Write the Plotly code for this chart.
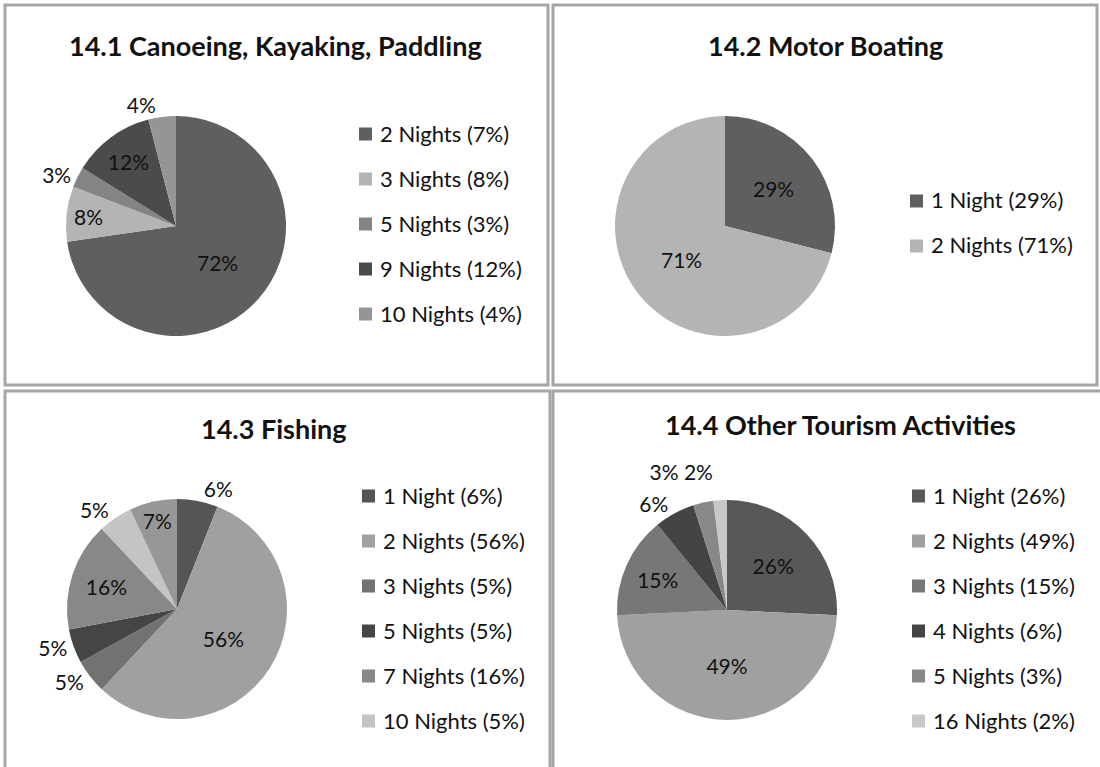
import plotly.graph_objects as go

# 14.1 Canoeing, Kayaking, Paddling
canoe_labels = ["2 Nights", "3 Nights", "5 Nights", "9 Nights", "10 Nights"]
canoe_values = [72, 8, 3, 12, 4]
canoe_legend = ["2 Nights (7%)", "3 Nights (8%)", "5 Nights (3%)", "9 Nights (12%)", "10 Nights (4%)"]

# 14.2 Motor Boating
motor_labels = ["1 Night", "2 Nights"]
motor_values = [29, 71]
motor_legend = ["1 Night (29%)", "2 Nights (71%)"]

# 14.3 Fishing (last slice has no legend entry in the original)
fish_labels = ["1 Night", "2 Nights", "3 Nights", "5 Nights", "7 Nights", "10 Nights", "other"]
fish_values = [6, 56, 5, 5, 16, 5, 7]
fish_legend = ["1 Night (6%)", "2 Nights (56%)", "3 Nights (5%)", "5 Nights (5%)",
               "7 Nights (16%)", "10 Nights (5%)"]

# 14.4 Other Tourism Activities
other_labels = ["1 Night", "2 Nights", "3 Nights", "4 Nights", "5 Nights", "16 Nights"]
other_values = [26, 49, 15, 6, 3, 2]
other_legend = ["1 Night (26%)", "2 Nights (49%)", "3 Nights (15%)", "4 Nights (6%)",
                "5 Nights (3%)", "16 Nights (2%)"]

W, H = 1100, 767
FONT = "Lato, 'Open Sans', sans-serif"


def px_x(x):
    return x / W


def px_y(y):
    return 1 - y / H


def pct_text(values):
    return ["%d%%" % v for v in values]


# the two tiny slices at the top of 14.4 share one label line, like the original;
# they go on an overlay copy of the pie so plotly doesn't push them around
other_text = pct_text(other_values)
other_top = ["", "", "", "", "", other_text[4] + " " + other_text[5]]
other_text[4] = ""
other_text[5] = ""

panels = [
    dict(title="14.1 Canoeing, Kayaking, Paddling", labels=canoe_labels, values=canoe_values,
         text=pct_text(canoe_values), legend=canoe_legend,
         colors=["#5f5f5f", "#b4b4b4", "#848484", "#4b4b4b", "#959595"],
         textpos=["inside", "inside", "outside", "inside", "outside"],
         center=(176, 226), box=(5, 5, 548, 385), title_xy=(275, 45),
         leg_x=359, leg_y0=134),
    dict(title="14.2 Motor Boating", labels=motor_labels, values=motor_values,
         text=pct_text(motor_values), legend=motor_legend,
         colors=["#5f5f5f", "#b4b4b4"],
         textpos=["inside", "inside"],
         center=(725, 226), box=(553, 5, 1097, 385), title_xy=(825, 45),
         leg_x=910, leg_y0=201),
    dict(title="14.3 Fishing", labels=fish_labels, values=fish_values,
         text=pct_text(fish_values), legend=fish_legend,
         colors=["#555555", "#a0a0a0", "#727272", "#454545", "#888888", "#c4c4c4", "#979797"],
         textpos=["outside", "inside", "outside", "outside", "inside", "outside", "inside"],
         center=(177, 609), box=(5, 391, 550, 775), title_xy=(274, 428),
         leg_x=362, leg_y0=496),
    dict(title="14.4 Other Tourism Activities", labels=other_labels, values=other_values,
         text=other_text, legend=other_legend,
         colors=["#585858", "#a0a0a0", "#777777", "#444444", "#888888", "#c8c8c8"],
         textpos=["inside", "inside", "inside", "outside", "none", "none"],
         center=(727, 610), box=(553, 391, 1105, 775), title_xy=(840, 425),
         leg_x=912, leg_y0=496),
]

R = 110
LEG_STEP = 45


def pie_domain(center, r=R):
    cx, cy = center
    return dict(x=[px_x(cx - r), px_x(cx + r)], y=[px_y(cy + r), px_y(cy - r)])


fig = go.Figure()
shapes = []
annotations = []

for p in panels:
    fig.add_trace(go.Pie(
        labels=p["labels"], values=p["values"], text=p["text"],
        sort=False, direction="clockwise", rotation=0,
        marker=dict(colors=p["colors"], line=dict(width=0)),
        texttemplate="%{text}", textposition=p["textpos"],
        textfont=dict(family=FONT, size=21, color="#111111"),
        insidetextorientation="horizontal",
        hoverinfo="label+value",
        showlegend=False,
        domain=pie_domain(p["center"]),
    ))

    # panel border
    x0, y0, x1, y1 = p["box"]
    shapes.append(dict(type="rect", xref="paper", yref="paper",
                       x0=px_x(x0), x1=px_x(x1), y0=px_y(y1), y1=px_y(y0),
                       line=dict(color="#a6a6a6", width=3)))

    tx, ty = p["title_xy"]
    annotations.append(dict(text="<b>" + p["title"] + "</b>", x=px_x(tx), y=px_y(ty),
                            xref="paper", yref="paper", showarrow=False,
                            xanchor="center", yanchor="middle",
                            font=dict(family=FONT, size=27, color="#111111")))

    # hand drawn legend so spacing matches the original
    for i, txt in enumerate(p["legend"]):
        ly = p["leg_y0"] + i * LEG_STEP
        lx = p["leg_x"]
        shapes.append(dict(type="rect", xref="paper", yref="paper",
                           x0=px_x(lx), x1=px_x(lx + 13), y0=px_y(ly + 6.5), y1=px_y(ly - 6.5),
                           fillcolor=p["colors"][i], line=dict(width=0)))
        annotations.append(dict(text=txt, x=px_x(lx + 19), y=px_y(ly - 1),
                                xref="paper", yref="paper", showarrow=False,
                                xanchor="left", yanchor="middle",
                                font=dict(family=FONT, size=22, color="#111111")))

# transparent, slightly larger copy of 14.4 that only carries the "3% 2%" label,
# so it sits above the "6%" label instead of colliding with it
fig.add_trace(go.Pie(
    labels=other_labels, values=other_values, text=other_top,
    sort=False, direction="clockwise", rotation=0,
    marker=dict(colors=["rgba(0,0,0,0)"] * len(other_values), line=dict(width=0)),
    texttemplate="%{text}",
    textposition=["none", "none", "none", "none", "none", "outside"],
    textfont=dict(family=FONT, size=21, color="#111111"),
    hoverinfo="skip",
    showlegend=False,
    domain=pie_domain(panels[3]["center"], R + 16),
))

fig.update_layout(
    width=W, height=H,
    margin=dict(l=0, r=0, t=0, b=0),
    paper_bgcolor="white",
    plot_bgcolor="white",
    shapes=shapes,
    annotations=annotations,
)

# drop the browser's default 8px body margin so the page lines up with the figure
fig.write_html("out.html", config={"displayModeBar": False},
               post_script="document.body.style.margin = '0';")
